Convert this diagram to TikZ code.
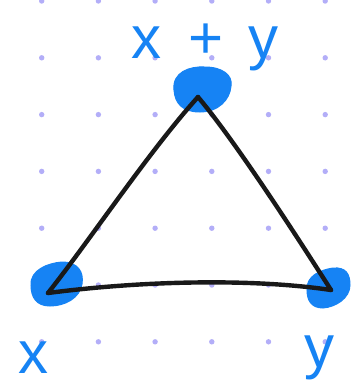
\documentclass[tikz,border=0pt]{standalone}
\usepackage{fontspec}
\setmainfont{Liberation Sans}
\definecolor{inkblue}{HTML}{1683F4}
\definecolor{gridpurple}{HTML}{B3AEF8}
\begin{document}
\begin{tikzpicture}[x=1pt,y=-1pt,
  griddot/.style={fill=gridpurple,draw=none},
  blob/.style={fill=inkblue,draw=inkblue,line width=1pt},
  edge/.style={draw=black!90,line width=4.4pt,line cap=round,line join=round},
  lab/.style={text=inkblue,font=\fontsize{60}{60}\selectfont,inner sep=0pt}]
\useasboundingbox (0,0) rectangle (351,392);
\fill[white] (0,0) rectangle (351,392);
% dot grid
\foreach \i in {0,...,5}{
  \foreach \j in {0,...,6}{
    \fill[griddot] ({41.7+56.7*\i},{1+56.8*\j}) circle (2.7);
  }
}
% vertices
\coordinate (T) at (198,97);
\coordinate (L) at (48,293);
\coordinate (R) at (331,290);
% blobs
\path[blob] (174,90) .. controls (172,72) and (190,66) .. (205,67)
  .. controls (222,67) and (233,75) .. (231,86)
  .. controls (230,100) and (218,112) .. (200,112)
  .. controls (183,112) and (175,104) .. (174,90) -- cycle;
\path[blob] (31,285) .. controls (30,270) and (48,263) .. (62,262)
  .. controls (78,262) and (84,272) .. (82,284)
  .. controls (80,298) and (65,306) .. (50,306)
  .. controls (36,306) and (31,297) .. (31,285) -- cycle;
\path[blob] (307,290) .. controls (306,276) and (320,270) .. (333,268)
  .. controls (346,267) and (350,274) .. (350,285)
  .. controls (350,298) and (336,307) .. (323,308)
  .. controls (311,308) and (307,300) .. (307,290) -- cycle;
% triangle
\draw[edge] (L) .. controls (90,240) and (150,150) .. (T);
\draw[edge] (T) .. controls (230,135) and (280,210) .. (R);
\draw[edge] (L) .. controls (140,281) and (250,278) .. (R);
% labels
\node[lab,anchor=base west] (xy) at (131,58) {x\hspace{27pt}+\hspace{25pt}y};
\node[lab,anchor=base] (lx) at (33,373) {x};
\node[lab,anchor=base] (ly) at (319,367) {y};
\end{tikzpicture}
\end{document}
